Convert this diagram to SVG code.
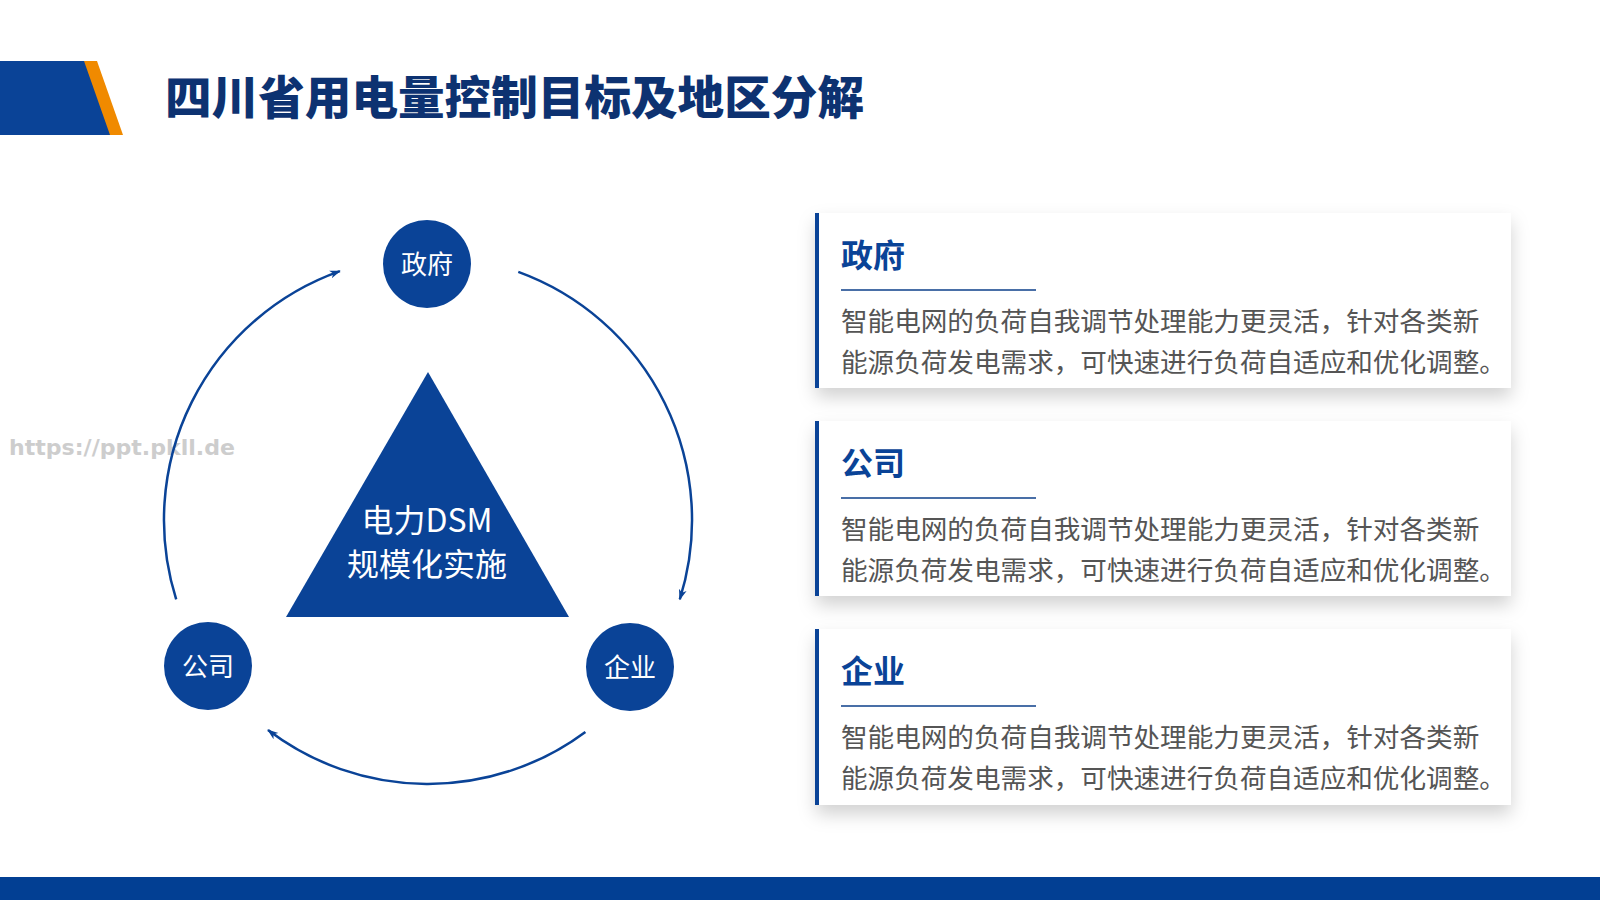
<svg xmlns="http://www.w3.org/2000/svg" width="1600" height="900" viewBox="0 0 1600 900">
<defs>
<style>
.cjk{font-family:"Noto Sans CJK SC","Noto Sans",sans-serif}
.node{fill:#0a4397}
.ntext{fill:#fff;font-size:26px;text-anchor:middle}
.arc{fill:none;stroke:#0a4397;stroke-width:2.5;marker-end:url(#arr)}
.card{fill:#fff;filter:url(#sh)}
.bar{fill:#0a4397}
.ctitle{fill:#0a4397;font-size:32px;font-weight:700}
.cline{stroke:#0d3f8a;stroke-width:1.5}
.body{fill:#555;font-size:26.6px}
</style>
<marker id="arr" viewBox="0 0 12 10" refX="10" refY="5" markerWidth="12" markerHeight="10" markerUnits="userSpaceOnUse" orient="auto">
<path d="M0,1 L11,5 L0,9 L3,5 Z" fill="#0a4397"/>
</marker>
<filter id="sh" x="-10%" y="-20%" width="120%" height="150%">
<feDropShadow dx="0" dy="9" stdDeviation="9" flood-color="#000" flood-opacity="0.18"/>
</filter>
</defs>
<rect width="1600" height="900" fill="#fff"/>
<g id="header">
<polygon points="0,61 97,61 123,135 0,135" fill="#f08a00"/>
<polygon points="0,61 84,61 110,135 0,135" fill="#0a4397"/>
<text x="165" y="114" class="cjk" font-size="46" font-weight="900" fill="#0d3271" textLength="699" lengthAdjust="spacingAndGlyphs">四川省用电量控制目标及地区分解</text>
</g>
<text x="9" y="455" font-family="DejaVu Sans, sans-serif" font-size="21" font-weight="700" fill="#cdcdcd" textLength="226" lengthAdjust="spacingAndGlyphs">https://ppt.pkll.de</text>
<g id="connectors">
<path class="arc" d="M176.2,599.4 A264,264 0 0 1 339.9,271.1"/>
<path class="arc" d="M518.3,271.9 A264,264 0 0 1 679.8,599.4"/>
<path class="arc" d="M585.4,731.9 A264,264 0 0 1 268,730"/>
</g>
<g id="center">
<polygon points="428,372 569,617 286,617" fill="#0a4397"/>
<text x="427" y="532" class="cjk" font-size="32" fill="#fff" text-anchor="middle">电力DSM</text>
<text x="427" y="576" class="cjk" font-size="32" fill="#fff" text-anchor="middle">规模化实施</text>
</g>
<g id="node-gov">
<circle class="node" cx="427" cy="264" r="44"/>
<text class="cjk ntext" x="427" y="274">政府</text>
</g>
<g id="node-company">
<circle class="node" cx="208" cy="666" r="44"/>
<text class="cjk ntext" x="208" y="676">公司</text>
</g>
<g id="node-enterprise">
<circle class="node" cx="630" cy="667" r="44"/>
<text class="cjk ntext" x="630" y="677">企业</text>
</g>
<g id="card-gov">
<rect class="card" x="816" y="213" width="695" height="175"/>
<rect class="bar" x="815" y="213" width="4" height="175"/>
<text class="cjk ctitle" x="841" y="267">政府</text>
<line class="cline" x1="841" y1="290" x2="1036" y2="290"/>
<text class="cjk body" x="841" y="331">智能电网的负荷自我调节处理能力更灵活，针对各类新</text>
<text class="cjk body" x="841" y="372">能源负荷发电需求，可快速进行负荷自适应和优化调整。</text>
</g>
<g id="card-company">
<rect class="card" x="816" y="421" width="695" height="175"/>
<rect class="bar" x="815" y="421" width="4" height="175"/>
<text class="cjk ctitle" x="841" y="475">公司</text>
<line class="cline" x1="841" y1="498" x2="1036" y2="498"/>
<text class="cjk body" x="841" y="539">智能电网的负荷自我调节处理能力更灵活，针对各类新</text>
<text class="cjk body" x="841" y="580">能源负荷发电需求，可快速进行负荷自适应和优化调整。</text>
</g>
<g id="card-enterprise">
<rect class="card" x="816" y="629" width="695" height="176"/>
<rect class="bar" x="815" y="629" width="4" height="176"/>
<text class="cjk ctitle" x="841" y="683">企业</text>
<line class="cline" x1="841" y1="706" x2="1036" y2="706"/>
<text class="cjk body" x="841" y="747">智能电网的负荷自我调节处理能力更灵活，针对各类新</text>
<text class="cjk body" x="841" y="788">能源负荷发电需求，可快速进行负荷自适应和优化调整。</text>
</g>
<rect x="0" y="877" width="1600" height="23" fill="#023f93"/>
</svg>
